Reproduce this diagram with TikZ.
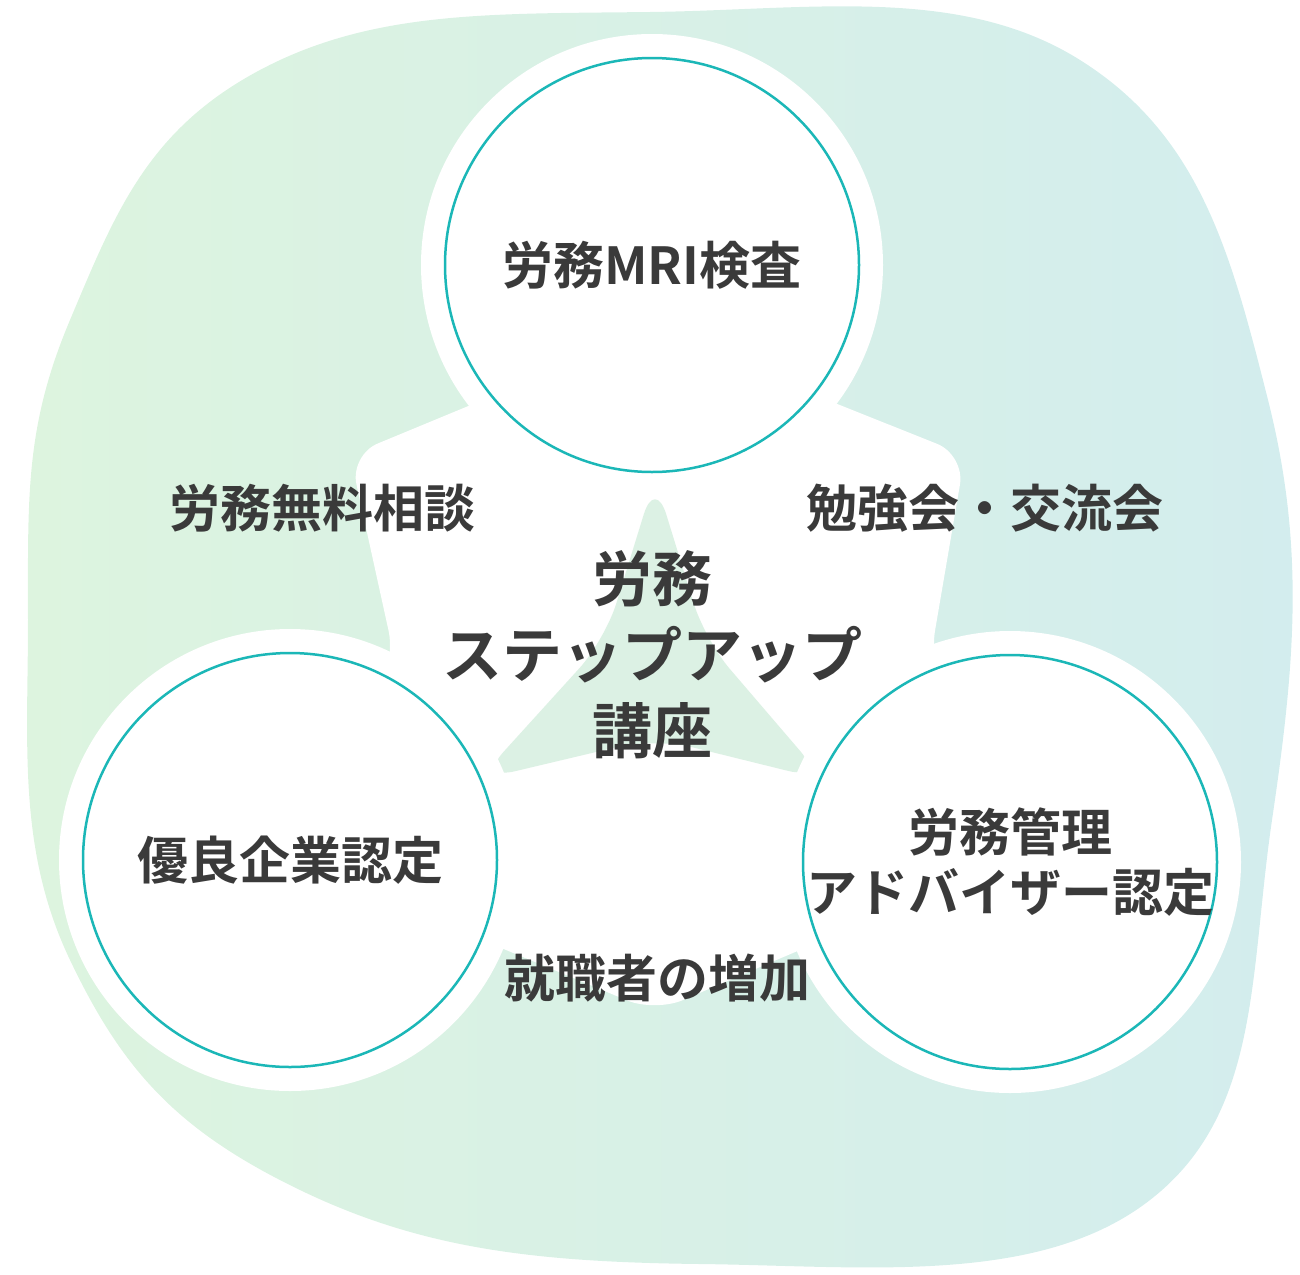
\documentclass[tikz,border=0pt]{standalone}
\usepackage{fontspec}
\newfontfamily\cjk{Noto Sans CJK JP Bold}
\definecolor{blobleft}{HTML}{DDF4DF}
\definecolor{blobright}{HTML}{D3EDEE}
\definecolor{ringline}{HTML}{1BB7B7}
\definecolor{startint}{HTML}{DCF1E4}
\definecolor{txt}{HTML}{3A3A3A}
\begin{document}
\begin{tikzpicture}[x=1pt,y=-1pt,
    topic/.style ={circle, draw=ringline, line width=2.5pt, fill=white, minimum size=414pt, inner sep=0pt},
    ringbg/.style ={circle, fill=white, minimum size=462pt, inner sep=0pt},
    word/.style ={font=\cjk\fontsize{51}{60}\selectfont, text=txt, align=center}]
   \useasboundingbox (0,0) rectangle (1300,1274);
   % background blob
   \shade[left color=blobleft, right color=blobright]
     plot[smooth cycle, tension=0.7] coordinates {(70,320) (260,70) (650,12) (1080,60) (1268,400) (1272,820) (1150,1200) (700,1264) (300,1190) (70,960) (28,620)};
   % white connector shape
   \fill[white, rounded corners=30pt] (350,455) -- (652,330) -- (965,455) -- (930,660) -- (1010,860) -- (655,1012) -- (290,860) -- (395,660) -- cycle;
   % center star
   \fill[startint, rounded corners=38pt] (655,478) -- (705,640) -- (825,780) -- (655,738) -- (478,780) -- (605,640) -- cycle;
   % circles
   \node[ringbg] (bgT) at (652,265) {};
   \node[ringbg] (bgL) at (290,860) {};
   \node[ringbg] (bgR) at (1010,862) {};
   \node[topic] (mri) at (652,265) {};
   \node[topic] (yuryo) at (290,860) {};
   \node[topic] (advisor) at (1010,862) {};
   \node[word] (mriT) at (mri) {労務MRI検査};
   \node[word] (yuryoT) at (yuryo) {優良企業認定};
   \node[word] (advisorT) at (advisor) {労務管理\\アドバイザー認定};
   % labels
   \node[word] (soudan) at (322,508) {労務無料相談};
   \node[word] (benkyo) at (985,508) {勉強会・交流会};
   \node[word] (shushoku) at (657,978) {就職者の増加};
   \node[word, font=\cjk\fontsize{60}{76}\selectfont] (center) at (652,655) {労務\\ステップアップ\\講座};
\end{tikzpicture}
\end{document}
